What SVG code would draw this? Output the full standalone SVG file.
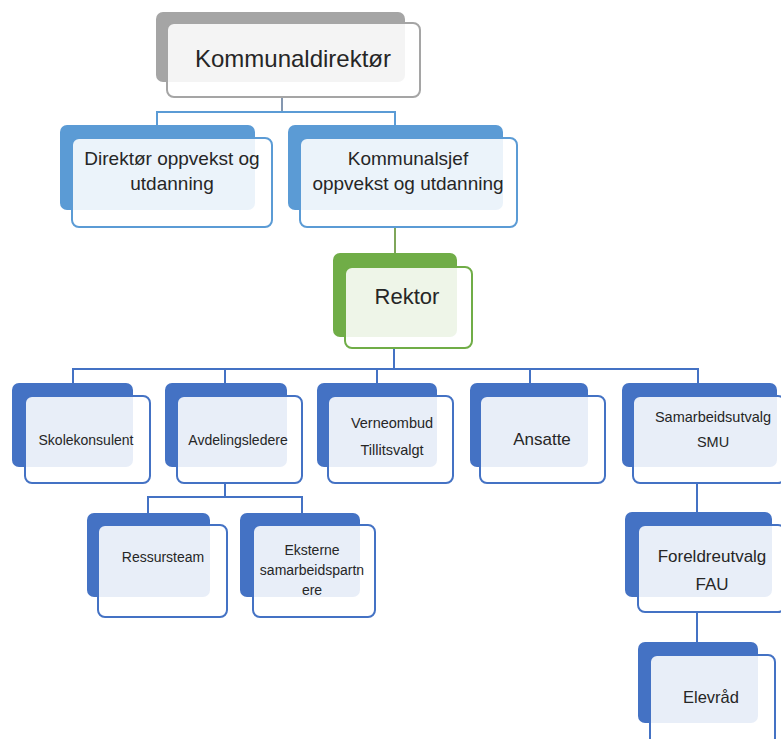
<svg xmlns="http://www.w3.org/2000/svg" width="781" height="739" viewBox="0 0 781 739">
<style>
.bg{fill:#ffffff}
.b{rx:7px}
.gray{fill:#A5A5A5}
.lb{fill:#5B9BD5}
.db{fill:#4472C4}
.gr{fill:#70AD47}
.f{fill:#ffffff;fill-opacity:0.88;stroke-width:2}
.fg{stroke:#A5A5A5}
.flb{stroke:#5B9BD5}
.fdb{stroke:#4472C4}
.fgr{stroke:#70AD47}
text{font-family:"Liberation Sans",Arial,sans-serif;fill:#262626;text-anchor:middle}
.c{fill:none;stroke-width:2}
</style>
<rect class="bg" x="0" y="0" width="781" height="739"/>
<g id="connectors">
<path class="c" stroke="#8497B0" d="M282 97V112"/>
<path class="c" stroke="#5B9BD5" d="M157 125V112H395V125"/>
<path class="c" stroke="#7FA65A" d="M395 227V253"/>
<path class="c" stroke="#4472C4" d="M394 348V369M73 383V369H698V383M225 369V383M377 369V383M530 369V383"/>
<path class="c" stroke="#4472C4" d="M225 483V497M148 513V497H302V513"/>
<path class="c" stroke="#4472C4" d="M697 483V512M697 612V642"/>
</g>
<g id="kommunaldirektor">
<rect class="b gray" x="156" y="12" width="249" height="70" rx="7"/>
<rect class="f fg" x="167" y="23" width="253" height="74" rx="7"/>
<text x="293" y="67" font-size="24">Kommunaldirektør</text>
</g>
<g id="direktor">
<rect class="lb" x="60" y="125" width="195" height="85" rx="7"/>
<rect class="f flb" x="72" y="138" width="200" height="89" rx="7"/>
<text x="172" y="165" font-size="19">Direktør oppvekst og</text>
<text x="172" y="190" font-size="19">utdanning</text>
</g>
<g id="kommunalsjef">
<rect class="lb" x="288" y="125" width="215" height="85" rx="7"/>
<rect class="f flb" x="300" y="138" width="217" height="89" rx="7"/>
<text x="408" y="165" font-size="19">Kommunalsjef</text>
<text x="408" y="190" font-size="19">oppvekst og utdanning</text>
</g>
<g id="rektor">
<rect class="gr" x="333" y="253" width="124" height="84" rx="7"/>
<rect class="f fgr" x="345" y="267" width="127" height="81" rx="7"/>
<text x="407" y="304" font-size="22">Rektor</text>
</g>
<g id="skolekonsulent">
<rect class="db" x="12" y="383" width="121" height="84" rx="7"/>
<rect class="f fdb" x="25" y="396" width="125" height="87" rx="7"/>
<text x="86" y="445" font-size="14">Skolekonsulent</text>
</g>
<g id="avdelingsledere">
<rect class="db" x="165" y="383" width="122" height="84" rx="7"/>
<rect class="f fdb" x="177" y="396" width="125" height="87" rx="7"/>
<text x="238" y="445" font-size="14">Avdelingsledere</text>
</g>
<g id="verneombud">
<rect class="db" x="317" y="383" width="120" height="84" rx="7"/>
<rect class="f fdb" x="328" y="396" width="125" height="87" rx="7"/>
<text x="392" y="428" font-size="14.5">Verneombud</text>
<text x="392" y="455" font-size="14.5">Tillitsvalgt</text>
</g>
<g id="ansatte">
<rect class="db" x="470" y="383" width="118" height="84" rx="7"/>
<rect class="f fdb" x="480" y="396" width="125" height="87" rx="7"/>
<text x="542" y="445" font-size="17">Ansatte</text>
</g>
<g id="samarbeidsutvalg">
<rect class="db" x="622" y="383" width="155" height="84" rx="7"/>
<rect class="f fdb" x="633" y="396" width="152" height="87" rx="7"/>
<text x="713" y="422" font-size="14.5">Samarbeidsutvalg</text>
<text x="713" y="447" font-size="14.5">SMU</text>
</g>
<g id="ressursteam">
<rect class="db" x="87" y="513" width="123" height="84" rx="7"/>
<rect class="f fdb" x="98" y="525" width="129" height="92" rx="7"/>
<text x="163" y="562" font-size="14">Ressursteam</text>
</g>
<g id="eksterne">
<rect class="db" x="240" y="513" width="120" height="84" rx="7"/>
<rect class="f fdb" x="253" y="525" width="122" height="92" rx="7"/>
<text x="312" y="555" font-size="14">Eksterne</text>
<text x="312" y="575" font-size="14">samarbeidspartn</text>
<text x="312" y="595" font-size="14">ere</text>
</g>
<g id="foreldreutvalg">
<rect class="db" x="625" y="512" width="147" height="85" rx="7"/>
<rect class="f fdb" x="638" y="525" width="147" height="87" rx="7"/>
<text x="712" y="562" font-size="17">Foreldreutvalg</text>
<text x="712" y="590" font-size="17">FAU</text>
</g>
<g id="elevrad">
<rect class="db" x="638" y="642" width="120" height="81" rx="7"/>
<rect class="f fdb" x="650" y="655" width="125" height="90" rx="7"/>
<text x="711" y="703" font-size="16.5">Elevråd</text>
</g>
</svg>
